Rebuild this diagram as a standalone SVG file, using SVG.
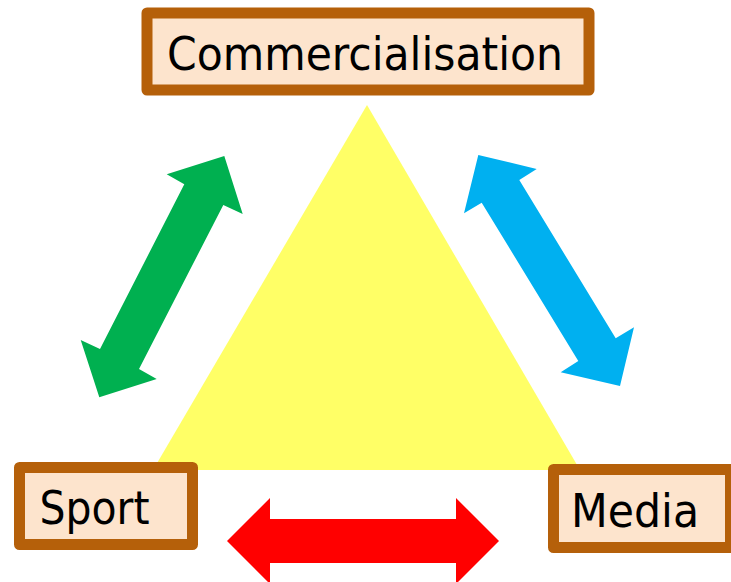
<svg xmlns="http://www.w3.org/2000/svg" width="731" height="582" viewBox="0 0 731 582">
  <style>
    .box { fill: #FDE4CD; stroke: #B5600A; stroke-width: 11; stroke-linejoin: round; }
    .label { font-family: "DejaVu Sans Condensed", "DejaVu Sans", sans-serif; font-size: 47px; fill: #000000; }
  </style>
  <rect width="731" height="582" fill="#FFFFFF"/>

  <!-- central triangle -->
  <polygon points="367,105 153,470 580,470" fill="#FFFF66"/>

  <!-- double-headed arrows between the three themes -->
  <g id="connectors">
    <polygon id="arrow-sport-commercialisation" fill="#00B050"
      points="224.3,156 242.7,214 223.3,205 139,369 156.7,379 99.3,397.3 80.7,340 100,349 184.3,184.3 166.7,174.3"/>
    <polygon id="arrow-commercialisation-media" fill="#00B0F0"
      points="478.3,155 536.7,169 519.3,180 615.7,338.3 634,327.3 620,386 560.7,372.3 578.3,361 481.7,202.7 464,213.3"/>
    <polygon id="arrow-sport-media" fill="#FF0000"
      points="227,541 270,498 270,519 456,519 456,498 499,541 456,584 456,563 270,563 270,584"/>
  </g>

  <g id="commercialisation">
    <rect class="box" x="147" y="13" width="442" height="77"/>
    <text class="label" x="167" y="70" textLength="396" lengthAdjust="spacingAndGlyphs">Commercialisation</text>
  </g>

  <g id="sport">
    <rect class="box" x="19.5" y="467.5" width="173" height="77"/>
    <text class="label" x="39.5" y="524" textLength="110" lengthAdjust="spacingAndGlyphs">Sport</text>
  </g>

  <g id="media">
    <rect class="box" x="553.5" y="469.5" width="177" height="78"/>
    <text class="label" x="571" y="527" textLength="128" lengthAdjust="spacingAndGlyphs">Media</text>
  </g>
</svg>
